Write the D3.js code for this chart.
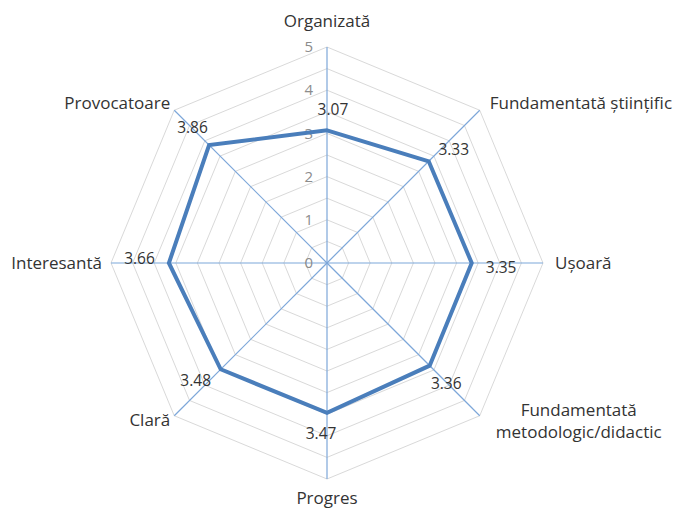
<!DOCTYPE html>
<html>
<head>
<meta charset="utf-8">
<script src="https://cdn.jsdelivr.net/npm/d3@7"></script>
<style>
  html, body { margin: 0; padding: 0; background: #fff; }
  svg { display: block; }
</style>
</head>
<body>
<svg id="chart" width="686" height="508"></svg>
<script>
// ---- data ----
const categories = [
  "Organizată",
  "Fundamentată științific",
  "Ușoară",
  "Fundamentată\nmetodologic/didactic",
  "Progres",
  "Clară",
  "Interesantă",
  "Provocatoare"
];
const values = [3.07, 3.33, 3.35, 3.36, 3.47, 3.48, 3.66, 3.86];
const tickValues = [0, 1, 2, 3, 4, 5];
const gridValues = [0.5, 1, 1.5, 2, 2.5, 3, 3.5, 4, 4.5, 5];

// ---- layout ----
const svg = d3.select("#chart");
const cx = 327, cy = 263, R = 216;
const font = "'Open Sans', 'DejaVu Sans', sans-serif";
const n = categories.length;
const r = d3.scaleLinear().domain([0, 5]).range([0, R]);
const angle = i => (2 * Math.PI * i) / n;
const pt = (i, v) => [cx + r(v) * Math.sin(angle(i)), cy - r(v) * Math.cos(angle(i))];

const g = svg.append("g");

// grid octagons
g.selectAll("path.grid").data(gridValues).join("path")
  .attr("class", "grid")
  .attr("d", v => d3.line()(d3.range(n).map(i => pt(i, v))) + "Z")
  .attr("fill", "none")
  .attr("stroke", "#d9d9d9")
  .attr("stroke-width", 1);

// spokes
g.selectAll("line.spoke").data(categories).join("line")
  .attr("class", "spoke")
  .attr("x1", cx).attr("y1", cy)
  .attr("x2", (d, i) => pt(i, 5)[0])
  .attr("y2", (d, i) => pt(i, 5)[1])
  .attr("stroke", "#7da7d9")
  .attr("stroke-width", 1.2);

// tick labels
g.selectAll("text.tick").data(tickValues).join("text")
  .attr("class", "tick")
  .attr("x", cx - 14)
  .attr("y", v => cy - r(v))
  .attr("dy", "0.35em")
  .attr("text-anchor", "end")
  .attr("font-family", font)
  .attr("font-size", 15)
  .attr("fill", "#8c8c8c")
  .text(v => v);

// series
g.append("path")
  .attr("d", d3.line()(values.map((v, i) => pt(i, v))) + "Z")
  .attr("fill", "none")
  .attr("stroke", "#4a7ebb")
  .attr("stroke-width", 4)
  .attr("stroke-linejoin", "miter");

// value labels
const delta = 0.2, dX = 30, dY = 21;
g.selectAll("text.val").data(values).join("text")
  .attr("class", "val")
  .attr("x", (v, i) => pt(i, v)[0] + dX * Math.sin(angle(i) + delta))
  .attr("y", (v, i) => pt(i, v)[1] - dY * Math.cos(angle(i) + delta))
  .attr("dy", "0.35em")
  .attr("text-anchor", "middle")
  .attr("font-family", font)
  .attr("font-size", 15.5)
  .attr("fill", "#333333")
  .text(v => v.toFixed(2));

// axis labels
g.selectAll("text.cat").data(categories).join("text")
  .attr("class", "cat")
  .attr("font-family", font)
  .attr("font-size", 17)
  .attr("fill", "#333333")
  .each(function (d, i) {
    const a = angle(i);
    const s = Math.sin(a), c = Math.cos(a);
    const [px, py] = pt(i, 5);
    let anchor = "middle", x = px, y = py;
    if (s > 0.9) { anchor = "start"; x = px + 12; }
    else if (s > 0.1) { anchor = "start"; x = px + 10; }
    else if (s < -0.9) { anchor = "end"; x = px - 9; }
    else if (s < -0.1) { anchor = "end"; x = px - 4; }
    if (c > 0.9) y = py - 26;
    else if (c < -0.9) y = py + 19;
    else if (c > 0.1) y = py - 7;
    else if (c < -0.1) y = py + 4;
    const lines = d.split("\n");
    const el = d3.select(this).attr("text-anchor", lines.length > 1 ? "middle" : anchor);
    if (lines.length > 1) { x = px + 99; y = py - 6; }
    lines.forEach((ln, k) => {
      el.append("tspan")
        .attr("x", x)
        .attr("y", y + k * 22)
        .attr("dy", "0.35em")
        .text(ln);
    });
  });
</script>
</body>
</html>
